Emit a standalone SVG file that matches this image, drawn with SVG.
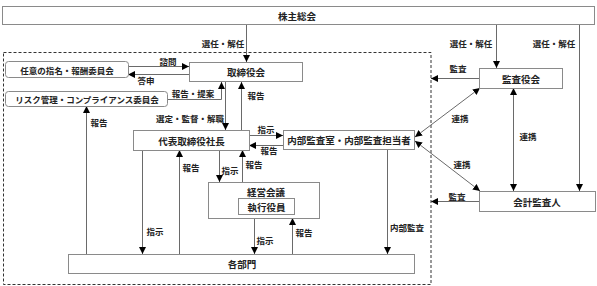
<svg xmlns="http://www.w3.org/2000/svg" width="597" height="286" viewBox="0 0 597 286">
<style>
.box{fill:#fff;stroke:#8a8a8a;stroke-width:1}
.nt{font-family:"Noto Sans CJK JP","Noto Sans",sans-serif;font-size:9.5px;font-weight:bold;fill:#222;text-anchor:middle;dominant-baseline:central}
.ct{font-family:"Noto Sans CJK JP","Noto Sans",sans-serif;font-size:8.5px;font-weight:bold;fill:#222;text-anchor:middle;dominant-baseline:central}
.lb{font-family:"Noto Sans CJK JP","Noto Sans",sans-serif;font-size:8.5px;font-weight:bold;fill:#222;text-anchor:middle;dominant-baseline:central}
.ln{fill:none;stroke:#6a6a6a;stroke-width:1}
.a{marker-end:url(#ah)}
.aa{marker-end:url(#ah);marker-start:url(#ah)}
</style>
<defs>
<marker id="ah" viewBox="0 0 8 8" refX="8" refY="4" markerWidth="7" markerHeight="7" markerUnits="userSpaceOnUse" orient="auto-start-reverse">
<path d="M0,0 L8,4 L0,8 z" fill="#000"/>
</marker>
</defs>
<rect x="3.5" y="52.5" width="427.5" height="232" fill="none" stroke="#333" stroke-width="1" stroke-dasharray="3,2"/>
<g id="connectors">
<line class="ln a" x1="246.5" y1="24" x2="246.5" y2="62"/>
<line class="ln a" x1="496.5" y1="24" x2="496.5" y2="68"/>
<line class="ln a" x1="579.5" y1="24" x2="579.5" y2="191"/>
<line class="ln a" x1="128" y1="66.5" x2="189" y2="66.5"/>
<line class="ln a" x1="189" y1="74.5" x2="128" y2="74.5"/>
<path class="ln a" d="M167,99.5 H221.5 V82"/>
<line class="ln a" x1="225.5" y1="82" x2="225.5" y2="130"/>
<line class="ln a" x1="241.5" y1="130" x2="241.5" y2="82"/>
<line class="ln a" x1="249" y1="135.5" x2="283" y2="135.5"/>
<line class="ln a" x1="283" y1="145.5" x2="249" y2="145.5"/>
<line class="ln a" x1="142.5" y1="150" x2="142.5" y2="254"/>
<line class="ln a" x1="179.5" y1="254" x2="179.5" y2="150"/>
<line class="ln a" x1="86.5" y1="254" x2="86.5" y2="106"/>
<line class="ln a" x1="219.5" y1="150" x2="219.5" y2="182"/>
<line class="ln a" x1="242.5" y1="182" x2="242.5" y2="150"/>
<line class="ln a" x1="254.5" y1="218" x2="254.5" y2="254"/>
<line class="ln a" x1="292.5" y1="254" x2="292.5" y2="218"/>
<line class="ln a" x1="387.5" y1="149" x2="387.5" y2="254"/>
<line class="ln a" x1="479" y1="78.5" x2="431" y2="78.5"/>
<line class="ln a" x1="479" y1="201.5" x2="431" y2="201.5"/>
<line class="ln aa" x1="415" y1="137" x2="480" y2="88"/>
<line class="ln aa" x1="513.5" y1="88" x2="513.5" y2="191"/>
<line class="ln aa" x1="415" y1="141" x2="480" y2="191"/>
</g>
<g id="labels">
<text class="lb" x="223" y="43">選任・解任</text>
<text class="lb" x="471" y="43">選任・解任</text>
<text class="lb" x="554" y="43">選任・解任</text>
<text class="lb" x="168" y="61">諮問</text>
<text class="lb" x="146" y="80">答申</text>
<text class="lb" x="193" y="93">報告・提案</text>
<text class="lb" x="256" y="95">報告</text>
<text class="lb" x="190" y="118">選定・監督・解職</text>
<text class="lb" x="266" y="129">指示</text>
<text class="lb" x="269" y="150">報告</text>
<text class="lb" x="99" y="122">報告</text>
<text class="lb" x="191" y="167">報告</text>
<text class="lb" x="230" y="170">指示</text>
<text class="lb" x="254" y="164">報告</text>
<text class="lb" x="155" y="231">指示</text>
<text class="lb" x="265" y="240">指示</text>
<text class="lb" x="304" y="232">報告</text>
<text class="lb" x="407" y="227">内部監査</text>
<text class="lb" x="458" y="68">監査</text>
<text class="lb" x="460" y="118">連携</text>
<text class="lb" x="528" y="136">連携</text>
<text class="lb" x="462" y="164">連携</text>
<text class="lb" x="457" y="196">監査</text>
</g>
<g id="n-shareholders">
<rect class="box" x="2.5" y="6.5" width="592" height="18"/>
<text class="nt" x="297" y="15.5">株主総会</text>
</g>
<g id="n-board">
<rect class="box" x="189.5" y="62.5" width="113" height="19"/>
<text class="nt" x="246" y="72">取締役会</text>
</g>
<g id="n-nomination">
<rect class="box" x="5.5" y="61.5" width="123" height="16" rx="3"/>
<text class="ct" x="67" y="69.5">任意の指名・報酬委員会</text>
</g>
<g id="n-risk">
<rect class="box" x="5.5" y="91.5" width="162" height="15" rx="3"/>
<text class="ct" x="87" y="99">リスク管理・コンプライアンス委員会</text>
</g>
<g id="n-president">
<rect class="box" x="133.5" y="130.5" width="116" height="20"/>
<text class="nt" x="191.5" y="140.5">代表取締役社長</text>
</g>
<g id="n-internal-audit">
<rect class="box" x="283.5" y="130.5" width="131" height="19"/>
<text class="nt" x="349" y="140">内部監査室・内部監査担当者</text>
</g>
<g id="n-mgmt">
<rect class="box" x="208.5" y="182.5" width="111" height="36"/>
<text class="nt" x="266" y="192">経営会議</text>
</g>
<g id="n-officers">
<rect class="box" x="238.5" y="198.5" width="56" height="16"/>
<text class="nt" x="266.5" y="206.5">執行役員</text>
</g>
<g id="n-departments">
<rect class="box" x="68.5" y="254.5" width="346" height="19"/>
<text class="nt" x="242" y="264">各部門</text>
</g>
<g id="n-auditors">
<rect class="box" x="479.5" y="68.5" width="83" height="20"/>
<text class="nt" x="521" y="78.5">監査役会</text>
</g>
<g id="n-accounting">
<rect class="box" x="479.5" y="191.5" width="116" height="20"/>
<text class="nt" x="537" y="201.5">会計監査人</text>
</g>
</svg>
